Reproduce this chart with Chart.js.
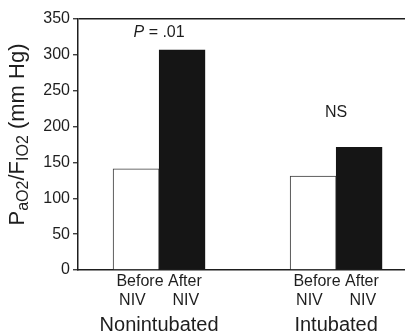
<!DOCTYPE html>
<html>
<head>
<meta charset="utf-8">
<script src="https://cdn.jsdelivr.net/npm/chart.js@4.4.1/dist/chart.umd.min.js"></script>
<style>
  html, body { margin: 0; padding: 0; background: #fff; overflow: hidden; }
  .canvas-container { width: 405px; height: 332px; }
</style>
</head>
<body>
<div class="canvas-container"><canvas id="myChart"></canvas></div>
<script>
// chart data
const groups = ["Nonintubated", "Intubated"];
const phaseLabels = ["Before After", "NIV      NIV"];
const beforeNIV = [141, 131];
const afterNIV = [307, 171];
const yTicks = [0, 50, 100, 150, 200, 250, 300, 350];
const notes = ["P = .01", "NS"];
const noteValues = [331, 219];

const ink = "#1e1e1e";
const font = "'Liberation Sans', Arial, sans-serif";
const groupIndex = groups.map((g, i) => i);
const xMin = -0.458, xMax = 1.389;

//y axis title with subscripts + significance notes
const extras = {
  id: "extras",
  afterDraw(chart) {
    const { ctx, chartArea, scales } = chart;
    ctx.save();
    ctx.fillStyle = ink;

    //rotated title
    const runs = [["P", 0], ["aO2", 1], ["/F", 0], ["IO2", 1], [" (mm Hg)", 0]];
    const setFont = (sub) => { ctx.font = (sub ? "16px " : "22px ") + font; };
    let total = 0;
    runs.forEach(([t, s]) => { setFont(s); total += ctx.measureText(t).width; });
    ctx.translate(24, (chartArea.top + chartArea.bottom) / 2 - 10);
    ctx.rotate(-Math.PI / 2);
    ctx.textBaseline = "alphabetic";
    let x = -total / 2;
    runs.forEach(([t, s]) => {
      setFont(s);
      ctx.fillText(t, x, s ? 4 : 0);
      x += ctx.measureText(t).width;
    });
    ctx.setTransform(1, 0, 0, 1, 0, 0);

    //notes above each group
    ctx.textBaseline = "middle";
    notes.forEach((note, i) => {
      const cx = scales.x.getPixelForValue(groupIndex[i]);
      const cy = scales.y.getPixelForValue(noteValues[i]);
      if (note.startsWith("P ")) {
        ctx.font = "italic 16px " + font;
        const pw = ctx.measureText("P").width;
        ctx.font = "16px " + font;
        const rest = note.slice(1);
        const rw = ctx.measureText(rest).width;
        const left = cx - (pw + rw) / 2;
        ctx.textAlign = "left";
        ctx.font = "italic 16px " + font;
        ctx.fillText("P", left, cy);
        ctx.font = "16px " + font;
        ctx.fillText(rest, left + pw, cy);
      } else {
        ctx.font = "16px " + font;
        ctx.textAlign = "center";
        ctx.fillText(note, cx, cy);
      }
    });
    ctx.restore();
  },
};

const setGroupTicks = (scale) => {
  scale.ticks = groupIndex.map((v) => ({ value: v }));
};

const data = {
  datasets: [
    {
      label: "Before NIV",
      data: beforeNIV.map((v, i) => ({ x: groupIndex[i], y: v })),
      backgroundColor: "#ffffff",
      borderColor: "#3a3a3a",
      borderWidth: 1,
      barThickness: 46,
    },
    {
      label: "After NIV",
      data: afterNIV.map((v, i) => ({ x: groupIndex[i], y: v })),
      backgroundColor: "#151515",
      borderColor: "#151515",
      borderWidth: 1,
      barThickness: 46,
    },
  ],
};

const config = {
  type: "bar",
  data: data,
  options: {
    responsive: true,
    maintainAspectRatio: false,
    animation: false,
    layout: { padding: { top: 19, left: 0, right: 0, bottom: 0 } },
    plugins: { legend: { display: false }, tooltip: { enabled: false } },
    scales: {
      x: {
        type: "linear",
        min: xMin,
        max: xMax,
        offset: false,
        weight: 0,
        grid: { display: false, drawTicks: false },
        border: { display: true, color: ink, width: 1.5 },
        afterBuildTicks: setGroupTicks,
        afterFit: (s) => { s.height = 43; },
        ticks: {
          autoSkip: false,
          maxRotation: 0,
          padding: 2,
          color: ink,
          font: { family: font, size: 16 },
          callback: () => phaseLabels,
        },
      },
      x2: {
        type: "linear",
        position: "bottom",
        min: xMin,
        max: xMax,
        offset: false,
        weight: 1,
        grid: { display: false, drawTicks: false },
        border: { display: false },
        afterBuildTicks: setGroupTicks,
        afterFit: (s) => { s.height = 19; },
        ticks: {
          autoSkip: false,
          maxRotation: 0,
          padding: 0,
          color: ink,
          font: { family: font, size: 20 },
          callback: (v) => groups[v],
        },
      },
      y: {
        min: 0,
        max: 350,
        afterBuildTicks: (s) => { s.ticks = yTicks.map((v) => ({ value: v })); },
        afterFit: (s) => { s.width = 78; },
        grid: {
          color: (c) => (c.tick && c.tick.value === 350 ? ink : "rgba(0,0,0,0)"),
          lineWidth: 1.5,
          tickColor: ink,
          tickLength: 5,
          tickWidth: 1.2,
        },
        border: { display: true, color: ink, width: 1.5 },
        ticks: { color: ink, padding: 3, font: { family: font, size: 16 } },
      },
    },
  },
  plugins: [extras],
};

const myChart = new Chart(document.getElementById("myChart"), config);
</script>
</body>
</html>
